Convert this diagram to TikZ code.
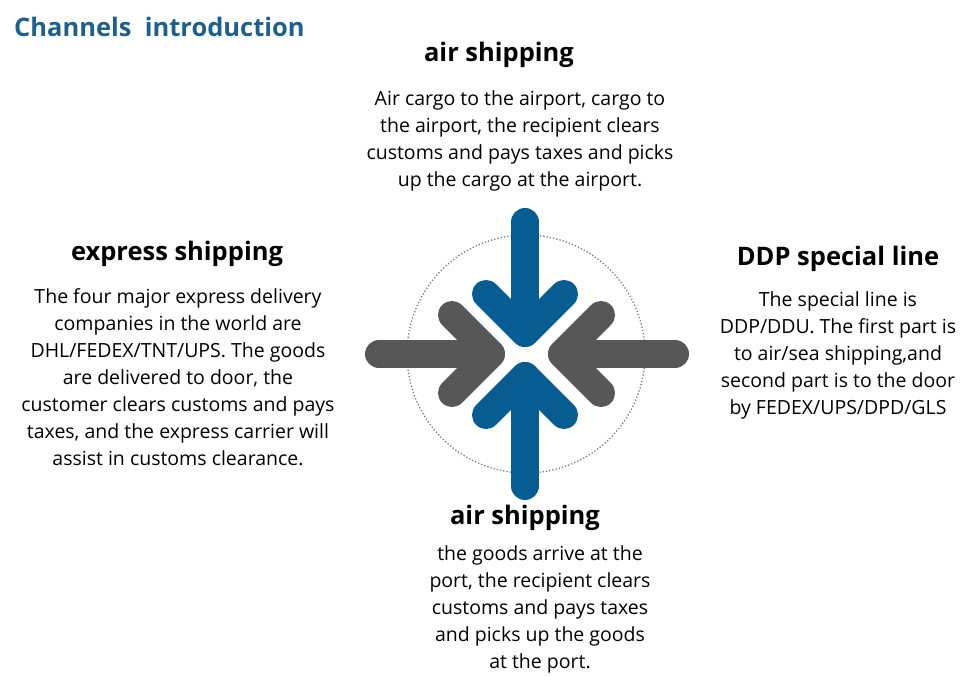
\documentclass[tikz,border=0pt]{standalone}
\usepackage{fontspec}
\setmainfont{Open Sans}
\definecolor{cblue}{HTML}{075C92}
\definecolor{cgray}{HTML}{575757}
\definecolor{ctitle}{HTML}{1F5F8B}
\definecolor{cdot}{HTML}{6F7C91}
\begin{document}
\begin{tikzpicture}[x=1pt,y=-1pt,
  arr/.style={line width=28pt,line cap=round,line join=round},
  head/.style={font=\fontsize{25.5}{27}\selectfont\bfseries,inner sep=0pt},
  body/.style={font=\fontsize{19.5}{27}\selectfont,align=center,inner sep=0pt,anchor=north}]
\useasboundingbox (0,0) rectangle (980,676);
\node[font=\fontsize{25.5}{30}\selectfont\bfseries,text=ctitle,anchor=west,inner sep=0pt] (title) at (14,27) {Channels\ \ introduction};
\node[circle,draw=cdot,dotted,line width=1.3pt,minimum size=238pt] (c) at (526,354) {};
% top
\coordinate (t0) at (525,222); \coordinate (tv) at (525,333);
\draw[arr,cblue] (t0) -- (tv);
\draw[arr,cblue] (486,294) -- (tv) -- (564,294);
% bottom
\coordinate (b0) at (525,486); \coordinate (bv) at (525,376);
\draw[arr,cblue] (b0) -- (bv);
\draw[arr,cblue] (486,415) -- (bv) -- (564,415);
% left
\coordinate (l0) at (379,354); \coordinate (lv) at (491,354);
\draw[arr,cgray] (l0) -- (lv);
\draw[arr,cgray] (452,315) -- (lv) -- (452,393);
% right
\coordinate (r0) at (675,354); \coordinate (rv) at (562,354);
\draw[arr,cgray] (r0) -- (rv);
\draw[arr,cgray] (601,315) -- (rv) -- (601,393);
% texts
\node[head] (th) at (499,55) {air shipping};
\node[body] (tb) at (520,90) {Air cargo to the airport, cargo to\\the airport, the recipient clears\\customs and pays taxes and picks\\up the cargo at the airport.};
\node[head] (lh) at (177,254) {express shipping};
\node[body] (lb) at (178,288) {The four major express delivery\\companies in the world are\\DHL/FEDEX/TNT/UPS. The goods\\are delivered to door, the\\customer clears customs and pays\\taxes, and the express carrier will\\assist in customs clearance.};
\node[head] (rh) at (838,259) {DDP special line};
\node[body] (rb) at (838,291) {The special line is\\DDP/DDU. The first part is\\to air/sea shipping,and\\second part is to the door\\by FEDEX/UPS/DPD/GLS};
\node[head] (bh) at (525,518) {air shipping};
\node[body] (bb) at (540,545) {the goods arrive at the\\port, the recipient clears\\customs and pays taxes\\and picks up the goods\\at the port.};
\end{tikzpicture}
\end{document}
